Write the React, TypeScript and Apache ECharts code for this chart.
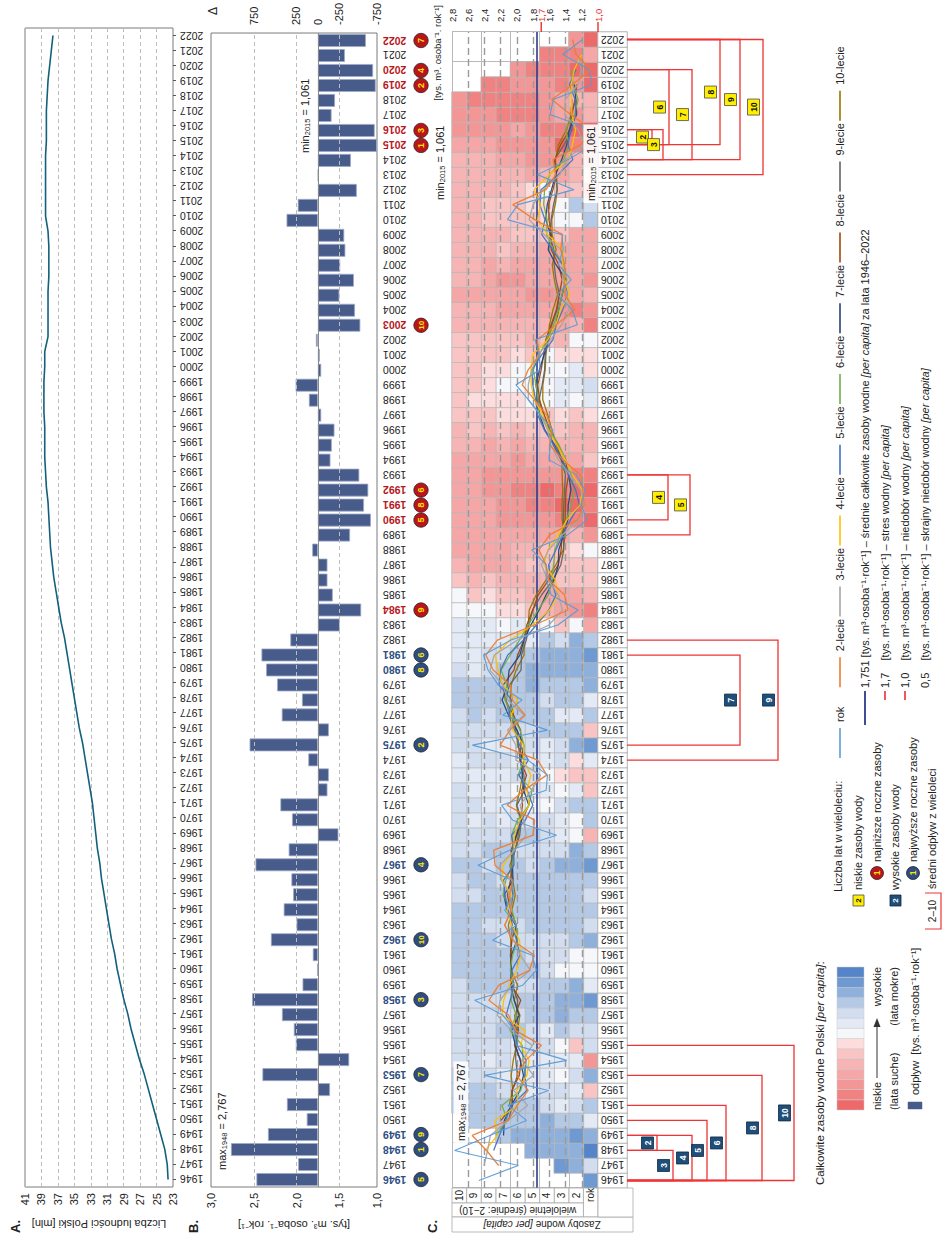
import React, { useEffect, useRef } from "react";
import * as echarts from "echarts";

// ---------- DATA ----------
const years: string[] = [
  "1946","1947","1948","1949","1950","1951","1952","1953","1954","1955","1956","1957","1958","1959",
  "1960","1961","1962","1963","1964","1965","1966","1967","1968","1969","1970","1971","1972","1973",
  "1974","1975","1976","1977","1978","1979","1980","1981","1982","1983","1984","1985","1986","1987",
  "1988","1989","1990","1991","1992","1993","1994","1995","1996","1997","1998","1999","2000","2001",
  "2002","2003","2004","2005","2006","2007","2008","2009","2010","2011","2012","2013","2014","2015",
  "2016","2017","2018","2019","2020","2021","2022"
];

// total water resources per capita [tys. m3 / osoba / rok]
const resources: number[] = [
  2.469, 1.981, 2.767, 2.334, 1.881, 2.113, 1.609, 2.399, 1.385, 2.009, 2.032, 2.171, 2.520, 1.930,
  1.760, 1.810, 2.300, 2.000, 2.150, 2.040, 2.060, 2.480, 2.092, 1.511, 2.053, 2.189, 1.639, 1.623,
  1.863, 2.549, 1.623, 2.173, 1.937, 2.228, 2.356, 2.410, 2.073, 1.495, 1.245, 1.577, 1.639, 1.639,
  1.817, 1.375, 1.131, 1.212, 1.162, 1.267, 1.604, 1.588, 1.557, 1.712, 1.856, 2.011, 1.712, 1.728,
  1.774, 1.255, 1.317, 1.500, 1.330, 1.490, 1.430, 1.443, 2.117, 1.986, 1.296, 1.745, 1.365, 1.061,
  1.087, 1.591, 1.551, 1.075, 1.106, 1.435, 1.190
];

// population of Poland [mln]
const population: number[] = [
  23.6, 23.7, 24.0, 24.5, 25.0, 25.5, 26.0, 26.5, 27.1, 27.6, 28.1, 28.5, 29.0, 29.4,
  29.8, 30.1, 30.5, 30.8, 31.1, 31.4, 31.7, 31.9, 32.2, 32.4, 32.6, 32.8, 33.1, 33.4,
  33.7, 34.0, 34.4, 34.7, 35.0, 35.3, 35.6, 35.9, 36.2, 36.6, 36.9, 37.2, 37.5, 37.7,
  37.9, 38.0, 38.1, 38.2, 38.4, 38.5, 38.6, 38.6, 38.6, 38.7, 38.7, 38.7, 38.6, 38.6,
  38.2, 38.2, 38.2, 38.2, 38.1, 38.1, 38.1, 38.2, 38.5, 38.5, 38.5, 38.5, 38.5, 38.4,
  38.4, 38.4, 38.3, 38.2, 38.0, 37.8, 37.6
];

const MEAN = 1.751;

const dryRank: Record<string, number> = {
  "2015": 1, "2019": 2, "2016": 3, "2020": 4, "1990": 5, "1992": 6, "2022": 7, "1991": 8, "1984": 9, "2003": 10
};
const wetRank: Record<string, number> = {
  "1948": 1, "1975": 2, "1958": 3, "1967": 4, "1946": 5, "1981": 6, "1953": 7, "1980": 8, "1949": 9, "1962": 10
};

// [years in period, first year, last year]
const dryPeriods: [number, string, string][] = [
  [2, "2015", "2016"], [3, "2014", "2016"], [4, "1990", "1993"], [5, "1989", "1993"],
  [6, "2015", "2020"], [7, "2014", "2020"], [8, "2015", "2022"], [9, "2014", "2022"], [10, "2013", "2022"]
];
const wetPeriods: [number, string, string][] = [
  [2, "1948", "1949"], [3, "1946", "1948"], [4, "1946", "1949"], [5, "1946", "1950"], [6, "1946", "1951"],
  [7, "1975", "1981"], [8, "1946", "1953"], [9, "1974", "1982"], [10, "1946", "1955"]
];

const heatRows = ["rok", "2", "3", "4", "5", "6", "7", "8", "9", "10"];
const lineNames = ["rok", "2-lecie", "3-lecie", "4-lecie", "5-lecie", "6-lecie", "7-lecie", "8-lecie", "9-lecie", "10-lecie"];
const popTickLabels = [23, 25, 27, 29, 31, 33, 35, 37, 39, 41];
const bTickValues = [1.5, 2.0, 2.5, 3.0];
const deltaTickValues = [750, 250, 0, -250];
const cTickValues = [1.0, 1.2, 1.4, 1.6, 1.7, 1.8, 2.0, 2.2, 2.4, 2.6, 2.8];
const cGridValues = [1.2, 1.4, 1.6, 1.8, 2.0, 2.2, 2.4, 2.6];
const classBreaks = [1.2, 1.3, 1.4, 1.5, 1.6, 1.7, 1.751, 1.85, 1.95, 2.05, 2.2, 2.4, 2.6];

// ---------- STYLES / LAYOUT ----------
const FONT = "'Liberation Sans', Arial, Helvetica, sans-serif";
const classColors = [
  "#ee6a6a", "#f08282", "#f39696", "#f5a6a6", "#f7b4b4", "#f9c4c4", "#fcdcdc",
  "#f6f7fb", "#e3eaf5", "#d2def0", "#b4c9e6", "#8fb0db", "#6f99d1", "#5585c8"
];
const lineColors = ["#5b9bd5", "#ed7d31", "#a5a5a5", "#ffc000", "#4472c4", "#70ad47", "#264478", "#9e480e", "#636363", "#997300"];
const B_MIN = 1.06;
const BAR_COLOR = "#485c8c";
const DRY_RED = "#b8161b";
const WET_BLUE = "#2f4d80";
const BRACKET_RED = "#ee3434";
const dryDepth: Record<number, number> = { 2: 652, 3: 663, 4: 668, 5: 690, 6: 669, 7: 692, 8: 720, 9: 740, 10: 763 };
const wetDepth: Record<number, number> = { 2: 657, 3: 673, 4: 692, 5: 707, 6: 726, 7: 740, 8: 762, 9: 778, 10: 794 };

const fmt = (v: number, d = 1) => v.toFixed(d).replace(".", ",");

function windowMean(n: number): (number | null)[] {
  const b = Math.ceil((n - 1) / 2);
  const f = n - 1 - b;
  return resources.map((_, i) => {
    if (i - b < 0 || i + f >= resources.length) return null;
    let s = 0;
    for (let k = i - b; k <= i + f; k++) s += resources[k];
    return s / n;
  });
}

function buildPieces() {
  const pieces: any[] = [];
  for (let k = 0; k < classColors.length; k++) {
    const p: any = { color: classColors[k] };
    if (k > 0) p.gte = classBreaks[k - 1];
    if (k < classBreaks.length) p.lt = classBreaks[k];
    pieces.push(p);
  }
  return pieces;
}

function buildOption() {
  const means = heatRows.map((_, r) => (r === 0 ? resources.map((v) => v as number | null) : windowMean(r + 1)));
  const heatData: any[] = [];
  means.forEach((arr, r) =>
    arr.forEach((v, i) => {
      if (v != null) heatData.push([i, r, v]);
    })
  );
  const lineSeries = lineNames
    .map((name, k) => ({
      type: "line",
      name,
      xAxisIndex: 2,
      yAxisIndex: 4,
      data: means[k],
      symbol: "none",
      showSymbol: false,
      connectNulls: false,
      z: 6,
      lineStyle: { color: lineColors[k], width: k === 0 ? 1.1 : 1.3, opacity: 0.95 },
    }))
    .reverse();

  const dash = { type: [4, 3], color: "#bdbdbd", width: 1 };
  return {
    animation: false,
    backgroundColor: "#ffffff",
    textStyle: { fontFamily: FONT },
    visualMap: [
      { type: "piecewise", show: false, seriesIndex: 2, dimension: 2, pieces: buildPieces() },
      { type: "piecewise", show: false, seriesIndex: 3, dimension: 2, pieces: [{ gte: 0, color: "#ffffff" }] },
    ],
    grid: [
      { left: 54, top: 25, width: 1159, height: 148, show: true, borderColor: "#7a7a7a", borderWidth: 1 },
      { left: 54, top: 211, width: 1159, height: 166, show: true, borderColor: "#7a7a7a", borderWidth: 1 },
      { left: 53, top: 452, width: 1156, height: 146 },
      { left: 53, top: 598, width: 1156, height: 29 },
    ],
    xAxis: [
      {
        gridIndex: 0, type: "category", data: years,
        axisLine: { show: false },
        axisTick: { show: true, alignWithLabel: true, length: 3, lineStyle: { color: "#555" } },
        axisLabel: { interval: 0, rotate: 90, fontSize: 10.5, color: "#222", margin: 7 },
      },
      {
        gridIndex: 1, type: "category", data: years,
        axisLine: { show: false }, axisTick: { show: false },
        axisLabel: {
          interval: 0, rotate: 90, fontSize: 10.5, color: "#222", margin: 6,
          formatter: (v: string) => (dryRank[v] ? `{d|${v}}` : wetRank[v] ? `{w|${v}}` : v),
          rich: {
            d: { color: DRY_RED, fontWeight: "bold", fontSize: 10.5 },
            w: { color: WET_BLUE, fontWeight: "bold", fontSize: 10.5 },
          },
        },
      },
      {
        gridIndex: 2, type: "category", data: years,
        axisLine: { show: false }, axisTick: { show: false }, axisLabel: { show: false },
        splitLine: { show: true, lineStyle: { color: "#b9b9b9", width: 1 } },
      },
      { gridIndex: 3, type: "category", data: years, show: false },
    ],
    yAxis: [
      {
        gridIndex: 0, type: "value", min: 23, max: 41, interval: 2,
        axisLine: { show: false }, axisTick: { show: false },
        axisLabel: { fontSize: 11, color: "#222", margin: 6, customValues: popTickLabels },
        splitLine: { show: true, lineStyle: dash },
        name: "Liczba ludności Polski [mln]", nameLocation: "middle", nameGap: 31, nameRotate: 90,
        nameTextStyle: { fontSize: 11, color: "#222" },
      },
      {
        gridIndex: 1, type: "value", min: B_MIN, max: 3.0,
        axisLine: { show: false }, axisTick: { show: false },
        axisLabel: {
          fontSize: 11, color: "#222", margin: 6,
          customValues: [B_MIN, ...bTickValues],
          formatter: (v: number) => (v < 1.2 ? "1,0" : fmt(v)),
        },
        splitLine: { show: false },
        name: "[tys. m³. osoba⁻¹. rok⁻¹]", nameLocation: "middle", nameGap: 30, nameRotate: 90,
        nameTextStyle: { fontSize: 11, color: "#222" },
      },
      {
        gridIndex: 1, type: "value", position: "right",
        min: (B_MIN - MEAN) * 1000, max: (3.0 - MEAN) * 1000,
        axisLine: { show: false }, axisTick: { show: false },
        axisLabel: {
          fontSize: 11, color: "#222", margin: 8,
          customValues: [(B_MIN - MEAN) * 1000, ...deltaTickValues],
          formatter: (v: number) => (v < -600 ? "-750" : String(Math.round(v))),
        },
        splitLine: { show: false },
      },
      {
        gridIndex: 2, type: "category", data: heatRows,
        axisLine: { show: false }, axisTick: { show: false }, axisLabel: { show: false },
        splitLine: { show: true, lineStyle: { color: "#b9b9b9", width: 1 } },
      },
      {
        gridIndex: 2, type: "value", position: "right", min: 1.0, max: 2.8,
        axisLine: { show: false }, axisTick: { show: false },
        axisLabel: {
          fontSize: 9.5, color: "#222", margin: 10,
          customValues: cTickValues,
          formatter: (v: number) =>
            Math.abs(v - 1.7) < 1e-6 || Math.abs(v - 1.0) < 1e-6 ? `{r|${fmt(v)}}` : fmt(v),
          rich: { r: { color: "#e8312f", fontSize: 9.5 } },
        },
        splitLine: { show: false },
      },
      { gridIndex: 3, type: "category", data: ["lab"], show: false },
    ],
    series: [
      {
        type: "line", xAxisIndex: 0, yAxisIndex: 0, data: population, symbol: "none", showSymbol: false,
        lineStyle: { color: "#13607c", width: 1.6 },
      },
      {
        type: "bar", xAxisIndex: 1, yAxisIndex: 2,
        data: resources.map((v) => (v - MEAN) * 1000),
        barCategoryGap: "14%",
        itemStyle: { color: BAR_COLOR, borderColor: "#9ea9c6", borderWidth: 0.8 },
        z: 3,
        markLine: {
          symbol: "none", silent: true, label: { show: false },
          data: [
            { yAxis: (1.5 - MEAN) * 1000, lineStyle: dash },
            { yAxis: (2.0 - MEAN) * 1000, lineStyle: dash },
            { yAxis: (2.5 - MEAN) * 1000, lineStyle: dash },
            { yAxis: 0, lineStyle: { type: "solid", color: "#8a8a8a", width: 1 } },
          ],
        },
      },
      {
        type: "heatmap", xAxisIndex: 2, yAxisIndex: 3, data: heatData,
        itemStyle: { borderColor: "#b9b9b9", borderWidth: 0.8 },
        emphasis: { disabled: true },
      },
      {
        type: "heatmap", xAxisIndex: 3, yAxisIndex: 5,
        data: years.map((y, i) => [i, 0, Number(y)]),
        itemStyle: { borderColor: "#a9a9a9", borderWidth: 0.9 },
        label: { show: true, rotate: 90, fontSize: 10.5, color: "#222", formatter: (p: any) => String(p.value[2]) },
        emphasis: { disabled: true },
      },
      {
        type: "line", xAxisIndex: 2, yAxisIndex: 4, data: years.map(() => null), symbol: "none", z: 5,
        markLine: {
          symbol: "none", silent: true, label: { show: false },
          data: [
            ...cGridValues.map((v) => ({ yAxis: v, lineStyle: { type: [7, 4], color: "#9a9a9a", width: 1.4 } })),
            { yAxis: MEAN, lineStyle: { type: "solid", color: "#2b3a8c", width: 1.6 } },
          ],
        },
      },
      ...lineSeries,
    ],
  };
}

function buildGraphics(chart: any) {
  const els: any[] = [];
  const xC = (i: number) => chart.convertToPixel({ xAxisIndex: 2 }, i) as number;
  const xB = (i: number) => chart.convertToPixel({ xAxisIndex: 1 }, i) as number;
  const yC = (v: number) => chart.convertToPixel({ yAxisIndex: 4 }, v) as number;
  const yRow = (r: string) => chart.convertToPixel({ yAxisIndex: 3 }, r) as number;
  const idx = (y: string) => years.indexOf(y);

  const text = (x: number, y: number, t: string, o: any = {}) => ({
    type: "text", x, y, rotation: o.rot || 0, z: o.z || 100,
    style: {
      text: t, fill: o.fill || "#222", fontSize: o.size || 11, fontFamily: FONT,
      fontWeight: o.weight || "normal", fontStyle: o.style || "normal",
      align: o.align || "left", verticalAlign: "middle",
      rich: o.rich, backgroundColor: o.bg, padding: o.pad,
    },
  });
  const line = (x1: number, y1: number, x2: number, y2: number, stroke: string, w = 1, z = 90) => ({
    type: "line", z, shape: { x1, y1, x2, y2 }, style: { stroke, lineWidth: w },
  });
  const rect = (x: number, y: number, w: number, h: number, fill: string, stroke: string, lw = 0.8, z = 95) => ({
    type: "rect", z, shape: { x, y, width: w, height: h }, style: { fill, stroke, lineWidth: lw },
  });
  const subRich = {
    t: { fontSize: 11, fontFamily: FONT, fill: "#222" },
    s: { fontSize: 7.5, fontFamily: FONT, padding: [5, 0, 0, 0] },
  };

  // panel letters
  els.push(text(8, 15, "A.", { size: 13, weight: "bold" }));
  els.push(text(8, 193, "B.", { size: 13, weight: "bold" }));
  els.push(text(8, 432, "C.", { size: 13, weight: "bold" }));
  els.push(text(1226, 213, "Δ", { size: 12 }));

  // min / max labels
  els.push(text(71, 222, "{t|max}{s|1948}{t| = 2,767}", { rich: subRich }));
  els.push(text(1088, 305, "{t|min}{s|2015}{t| = 1,061}", { rich: subRich }));
  els.push(text(98, 461, "{t|max}{s|1948}{t| = 2,767}", { rich: subRich, bg: "rgba(255,255,255,0.9)", pad: [1, 2, 1, 2] }));
  els.push(text(1041, 440, "{t|min}{s|2015}{t| = 1,061}", { rich: subRich }));
  els.push(text(1038, 591, "{t|min}{s|2015}{t| = 1,061}", { rich: subRich, bg: "rgba(255,255,255,0.9)", pad: [1, 2, 1, 2] }));
  els.push(text(1236, 437, "[tys. m³. osoba⁻¹. rok⁻¹]", { size: 9.5, align: "right" }));

  // red ticks on panel C value axis
  [1.7, 1.0].forEach((v) => els.push(line(1209, yC(v), 1219, yC(v), "#e8312f", 1.4)));

  // ranking circles in panel B
  years.forEach((y, i) => {
    const rk = dryRank[y] || wetRank[y];
    if (!rk) return;
    const cx = xB(i);
    els.push({
      type: "circle", z: 100, shape: { cx, cy: 421, r: 7.2 },
      style: { fill: dryRank[y] ? DRY_RED : WET_BLUE, stroke: "#1c1c1c", lineWidth: 0.7 },
    });
    els.push(text(cx, 421, String(rk), { size: rk >= 10 ? 8 : 9, weight: "bold", fill: "#ffe600", align: "center", z: 101 }));
  });

  // header table for panel C
  const rowH = 146 / heatRows.length;
  heatRows.forEach((r) => {
    const cy = yRow(r);
    if (r === "rok") {
      els.push(rect(24, cy - rowH / 2, 29, rowH, "#fff", "#a9a9a9"));
      els.push(text(46, cy, "rok", { size: 10, align: "center" }));
    } else {
      els.push(rect(38, cy - rowH / 2, 15, rowH, "#fff", "#a9a9a9"));
      els.push(text(45.5, cy, r, { size: 10, align: "center" }));
    }
  });
  els.push(rect(24, 452, 14, 146 - rowH, "#fff", "#a9a9a9"));
  els.push(text(31, 452 + (146 - rowH) / 2, "wieloletnie (średnie: 2−10)", { size: 10, rot: Math.PI / 2, align: "center" }));
  els.push(rect(9, 452, 15, 181, "#fff", "#a9a9a9"));
  els.push(text(16.5, 542, "Zasoby wodne {i|[per capita]}", {
    size: 10, rot: Math.PI / 2, align: "center",
    rich: { i: { fontStyle: "italic", fontSize: 10, fontFamily: FONT } },
  }));
  els.push(rect(24, 598, 29, 35, "#fff", "#a9a9a9"));

  // brackets
  const bracket = (n: number, a: string, b: string, depth: number, wet: boolean) => {
    const x1 = xC(idx(a)), x2 = xC(idx(b));
    els.push({
      type: "polyline", z: 80,
      shape: { points: [[x1, 627], [x1, depth], [x2, depth], [x2, 627]] },
      style: { stroke: BRACKET_RED, lineWidth: 1.3, fill: null },
    });
    const mx = (x1 + x2) / 2, my = depth - 9.5;
    const w = n >= 10 ? 16 : 12;
    els.push(rect(mx - w / 2, my - 6, w, 12, wet ? "#1f4e79" : "#ffee00", wet ? "#0d2a45" : "#4a4a4a", 0.8, 96));
    els.push(text(mx, my + 0.5, String(n), { size: 8.5, weight: "bold", fill: wet ? "#ffffff" : "#111", align: "center", z: 97 }));
  };
  dryPeriods.forEach(([n, a, b]) => bracket(n, a, b, dryDepth[n], false));
  wetPeriods.forEach(([n, a, b]) => bracket(n, a, b, wetDepth[n], true));

  // ---------- legend ----------
  els.push(text(56, 820, "Całkowite zasoby wodne Polski {i|[per capita]}:", {
    size: 11.5, rich: { i: { fontStyle: "italic", fontSize: 11.5, fontFamily: FONT } },
  }));
  const cw = 143 / classColors.length;
  classColors.forEach((c, k) => els.push(rect(131 + k * cw, 837, cw, 27, c, "#c8c8c8", 0.5)));
  els.push(text(131, 877, "niskie", { size: 11 }));
  els.push(line(163, 877, 216, 877, "#333", 1));
  els.push({ type: "polygon", z: 100, shape: { points: [[223, 877], [214, 873.5], [214, 880.5]] }, style: { fill: "#333" } });
  els.push(text(274, 877, "wysokie", { size: 11, align: "right" }));
  els.push(text(131, 894, "(lata suche)", { size: 11 }));
  els.push(text(274, 894, "(lata mokre)", { size: 11, align: "right" }));
  els.push(rect(132, 908, 7, 14, BAR_COLOR, BAR_COLOR, 0.5));
  els.push(text(146, 915, "odpływ  [tys. m³·osoba⁻¹·rok⁻¹]", { size: 11 }));

  els.push(text(349, 838, "Liczba lat w wieloleciu:", { size: 11 }));
  els.push(rect(335, 853, 11, 11, "#ffee00", "#4a4a4a", 0.8));
  els.push(text(340.5, 858.5, "2", { size: 8, weight: "bold", align: "center", fill: "#111", z: 101 }));
  els.push(text(351, 858, "niskie zasoby wody", { size: 11 }));
  els.push({ type: "circle", z: 100, shape: { cx: 368, cy: 877, r: 6.5 }, style: { fill: DRY_RED, stroke: "#1c1c1c", lineWidth: 0.7 } });
  els.push(text(368, 877, "1", { size: 8.5, weight: "bold", fill: "#ffe600", align: "center", z: 101 }));
  els.push(text(379, 877, "najniższe roczne zasoby", { size: 11 }));
  els.push(rect(335, 890, 11, 11, "#1f4e79", "#0d2a45", 0.8));
  els.push(text(340.5, 895.5, "2", { size: 8, weight: "bold", align: "center", fill: "#fff", z: 101 }));
  els.push(text(351, 895, "wysokie zasoby wody", { size: 11 }));
  els.push({ type: "circle", z: 100, shape: { cx: 368, cy: 913, r: 6.5 }, style: { fill: WET_BLUE, stroke: "#1c1c1c", lineWidth: 0.7 } });
  els.push(text(368, 913, "1", { size: 8.5, weight: "bold", fill: "#ffe600", align: "center", z: 101 }));
  els.push(text(379, 913, "najwyższe roczne zasoby", { size: 11 }));
  els.push({
    type: "polyline", z: 100,
    shape: { points: [[312, 925], [312, 941], [348, 941], [348, 925]] },
    style: { stroke: BRACKET_RED, lineWidth: 1.2, fill: null },
  });
  els.push(text(330, 932, "2–10", { size: 10, align: "center" }));
  els.push(text(352, 932, "średni odpływ z wieloleci", { size: 11 }));

  lineNames.forEach((nm, k) => {
    const x0 = 483 + k * 70.8;
    els.push(line(x0, 840, x0 + 30, 840, lineColors[k], 1.6, 100));
    els.push(text(x0 + 36, 840, nm, { size: 11 }));
  });
  const unit = "[tys. m³·osoba⁻¹·rok⁻¹]";
  const irich = { i: { fontStyle: "italic", fontSize: 11, fontFamily: FONT } };
  els.push(line(516, 865, 550, 865, "#2b3a8c", 1.8, 100));
  els.push(text(553, 865, `1,751 ${unit} – średnie całkowite zasoby wodne {i|[per capita]} za lata 1946–2022`, { size: 11, rich: irich }));
  els.push(line(541, 885, 550, 885, "#e8312f", 1.6, 100));
  els.push(text(553, 885, `1,7    ${unit} – stres wodny {i|[per capita]}`, { size: 11, rich: irich }));
  els.push(line(541, 905, 550, 905, "#e8312f", 1.6, 100));
  els.push(text(553, 905, `1,0    ${unit} – niedobór wodny {i|[per capita]}`, { size: 11, rich: irich }));
  els.push(text(553, 925, `0,5    ${unit} – skrajny niedobór wodny {i|[per capita]}`, { size: 11, rich: irich }));

  return els;
}

export default function App() {
  const ref = useRef<HTMLDivElement>(null);
  useEffect(() => {
    document.body.style.margin = "0";
    document.body.style.overflow = "hidden";
    const chart = echarts.init(ref.current as HTMLDivElement, undefined, { renderer: "svg", width: 1241, height: 944 });
    chart.setOption(buildOption() as any);
    chart.setOption({ graphic: { elements: buildGraphics(chart) } } as any);
    return () => chart.dispose();
  }, []);
  return (
    <div style={{ position: "fixed", left: 0, top: 0, width: 944, height: 1241, overflow: "hidden", background: "#fff" }}>
      <div
        ref={ref}
        style={{
          position: "absolute", left: 0, top: 0, width: 1241, height: 944,
          transformOrigin: "0 0", transform: "translate(0px, 1241px) rotate(-90deg)",
        }}
      />
    </div>
  );
}
